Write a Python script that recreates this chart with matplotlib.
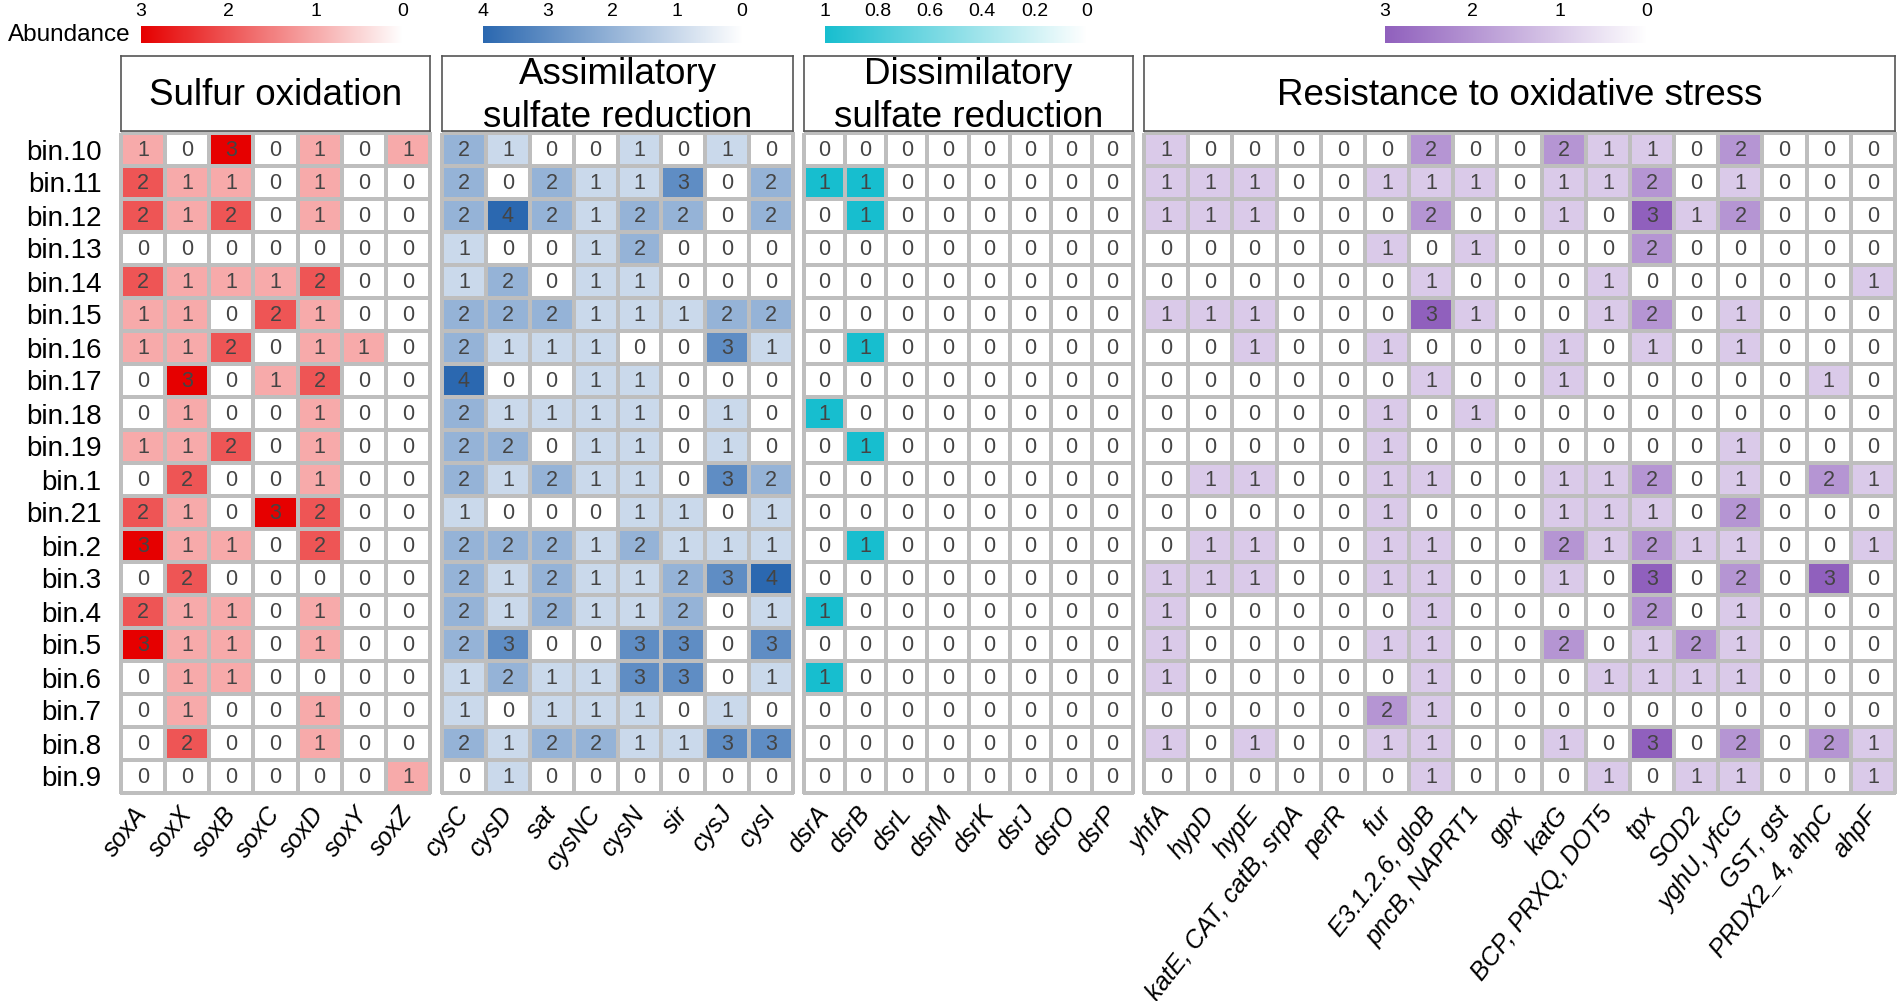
import numpy as np
import matplotlib
matplotlib.use("Agg")
from matplotlib import pyplot as plt
from matplotlib.colors import LinearSegmentedColormap

plt.rcParams['font.family'] = ['Liberation Sans', 'DejaVu Sans']

# row labels (top to bottom)
bins = ['bin.10', 'bin.11', 'bin.12', 'bin.13', 'bin.14', 'bin.15', 'bin.16',
        'bin.17', 'bin.18', 'bin.19', 'bin.1', 'bin.21', 'bin.2', 'bin.3',
        'bin.4', 'bin.5', 'bin.6', 'bin.7', 'bin.8', 'bin.9']

# Sulfur oxidation
sox_genes = ['soxA', 'soxX', 'soxB', 'soxC', 'soxD', 'soxY', 'soxZ']
sox_vals = [
    [1, 0, 3, 0, 1, 0, 1],
    [2, 1, 1, 0, 1, 0, 0],
    [2, 1, 2, 0, 1, 0, 0],
    [0, 0, 0, 0, 0, 0, 0],
    [2, 1, 1, 1, 2, 0, 0],
    [1, 1, 0, 2, 1, 0, 0],
    [1, 1, 2, 0, 1, 1, 0],
    [0, 3, 0, 1, 2, 0, 0],
    [0, 1, 0, 0, 1, 0, 0],
    [1, 1, 2, 0, 1, 0, 0],
    [0, 2, 0, 0, 1, 0, 0],
    [2, 1, 0, 3, 2, 0, 0],
    [3, 1, 1, 0, 2, 0, 0],
    [0, 2, 0, 0, 0, 0, 0],
    [2, 1, 1, 0, 1, 0, 0],
    [3, 1, 1, 0, 1, 0, 0],
    [0, 1, 1, 0, 0, 0, 0],
    [0, 1, 0, 0, 1, 0, 0],
    [0, 2, 0, 0, 1, 0, 0],
    [0, 0, 0, 0, 0, 0, 1],
]

# Assimilatory sulfate reduction
cys_genes = ['cysC', 'cysD', 'sat', 'cysNC', 'cysN', 'sir', 'cysJ', 'cysI']
cys_vals = [
    [2, 1, 0, 0, 1, 0, 1, 0],
    [2, 0, 2, 1, 1, 3, 0, 2],
    [2, 4, 2, 1, 2, 2, 0, 2],
    [1, 0, 0, 1, 2, 0, 0, 0],
    [1, 2, 0, 1, 1, 0, 0, 0],
    [2, 2, 2, 1, 1, 1, 2, 2],
    [2, 1, 1, 1, 0, 0, 3, 1],
    [4, 0, 0, 1, 1, 0, 0, 0],
    [2, 1, 1, 1, 1, 0, 1, 0],
    [2, 2, 0, 1, 1, 0, 1, 0],
    [2, 1, 2, 1, 1, 0, 3, 2],
    [1, 0, 0, 0, 1, 1, 0, 1],
    [2, 2, 2, 1, 2, 1, 1, 1],
    [2, 1, 2, 1, 1, 2, 3, 4],
    [2, 1, 2, 1, 1, 2, 0, 1],
    [2, 3, 0, 0, 3, 3, 0, 3],
    [1, 2, 1, 1, 3, 3, 0, 1],
    [1, 0, 1, 1, 1, 0, 1, 0],
    [2, 1, 2, 2, 1, 1, 3, 3],
    [0, 1, 0, 0, 0, 0, 0, 0],
]

# Dissimilatory sulfate reduction
dsr_genes = ['dsrA', 'dsrB', 'dsrL', 'dsrM', 'dsrK', 'dsrJ', 'dsrO', 'dsrP']
dsr_vals = [
    [0, 0, 0, 0, 0, 0, 0, 0],
    [1, 1, 0, 0, 0, 0, 0, 0],
    [0, 1, 0, 0, 0, 0, 0, 0],
    [0, 0, 0, 0, 0, 0, 0, 0],
    [0, 0, 0, 0, 0, 0, 0, 0],
    [0, 0, 0, 0, 0, 0, 0, 0],
    [0, 1, 0, 0, 0, 0, 0, 0],
    [0, 0, 0, 0, 0, 0, 0, 0],
    [1, 0, 0, 0, 0, 0, 0, 0],
    [0, 1, 0, 0, 0, 0, 0, 0],
    [0, 0, 0, 0, 0, 0, 0, 0],
    [0, 0, 0, 0, 0, 0, 0, 0],
    [0, 1, 0, 0, 0, 0, 0, 0],
    [0, 0, 0, 0, 0, 0, 0, 0],
    [1, 0, 0, 0, 0, 0, 0, 0],
    [0, 0, 0, 0, 0, 0, 0, 0],
    [1, 0, 0, 0, 0, 0, 0, 0],
    [0, 0, 0, 0, 0, 0, 0, 0],
    [0, 0, 0, 0, 0, 0, 0, 0],
    [0, 0, 0, 0, 0, 0, 0, 0],
]

# Resistance to oxidative stress
ros_genes = ['yhfA', 'hypD', 'hypE', 'katE, CAT, catB, srpA', 'perR', 'fur',
             'E3.1.2.6, gloB', 'pncB, NAPRT1', 'gpx', 'katG', 'BCP, PRXQ, DOT5',
             'tpx', 'SOD2', 'yghU, yfcG', 'GST, gst', 'PRDX2_4, ahpC', 'ahpF']
ros_vals = [
    [1, 0, 0, 0, 0, 0, 2, 0, 0, 2, 1, 1, 0, 2, 0, 0, 0],
    [1, 1, 1, 0, 0, 1, 1, 1, 0, 1, 1, 2, 0, 1, 0, 0, 0],
    [1, 1, 1, 0, 0, 0, 2, 0, 0, 1, 0, 3, 1, 2, 0, 0, 0],
    [0, 0, 0, 0, 0, 1, 0, 1, 0, 0, 0, 2, 0, 0, 0, 0, 0],
    [0, 0, 0, 0, 0, 0, 1, 0, 0, 0, 1, 0, 0, 0, 0, 0, 1],
    [1, 1, 1, 0, 0, 0, 3, 1, 0, 0, 1, 2, 0, 1, 0, 0, 0],
    [0, 0, 1, 0, 0, 1, 0, 0, 0, 1, 0, 1, 0, 1, 0, 0, 0],
    [0, 0, 0, 0, 0, 0, 1, 0, 0, 1, 0, 0, 0, 0, 0, 1, 0],
    [0, 0, 0, 0, 0, 1, 0, 1, 0, 0, 0, 0, 0, 0, 0, 0, 0],
    [0, 0, 0, 0, 0, 1, 0, 0, 0, 0, 0, 0, 0, 1, 0, 0, 0],
    [0, 1, 1, 0, 0, 1, 1, 0, 0, 1, 1, 2, 0, 1, 0, 2, 1],
    [0, 0, 0, 0, 0, 1, 0, 0, 0, 1, 1, 1, 0, 2, 0, 0, 0],
    [0, 1, 1, 0, 0, 1, 1, 0, 0, 2, 1, 2, 1, 1, 0, 0, 1],
    [1, 1, 1, 0, 0, 1, 1, 0, 0, 1, 0, 3, 0, 2, 0, 3, 0],
    [1, 0, 0, 0, 0, 0, 1, 0, 0, 0, 0, 2, 0, 1, 0, 0, 0],
    [1, 0, 0, 0, 0, 1, 1, 0, 0, 2, 0, 1, 2, 1, 0, 0, 0],
    [1, 0, 0, 0, 0, 0, 1, 0, 0, 0, 1, 1, 1, 1, 0, 0, 0],
    [0, 0, 0, 0, 0, 2, 1, 0, 0, 0, 0, 0, 0, 0, 0, 0, 0],
    [1, 0, 1, 0, 0, 1, 1, 0, 0, 1, 0, 3, 0, 2, 0, 2, 1],
    [0, 0, 0, 0, 0, 0, 1, 0, 0, 0, 1, 0, 1, 1, 0, 0, 1],
]

titles = ['Sulfur oxidation', 'Assimilatory\nsulfate reduction',
          'Dissimilatory\nsulfate reduction', 'Resistance to oxidative stress']
cbar_ticks = [['3', '2', '1', '0'], ['4', '3', '2', '1', '0'],
              ['1', '0.8', '0.6', '0.4', '0.2', '0'], ['3', '2', '1', '0']]

W, H = 1902, 1001


def px(x0, y0, x1, y1):
    # pixel box -> figure fraction [left, bottom, width, height]
    return [x0 / W, 1 - y1 / H, (x1 - x0) / W, (y1 - y0) / H]


groups = [
    # genes, values, colour, vmax, grid x range, colorbar x range
    (sox_genes, sox_vals, '#E60000', 3, (121, 430), (141, 403)),
    (cys_genes, cys_vals, '#2B68B0', 4, (442, 793), (483, 742)),
    (dsr_genes, dsr_vals, '#17BECF', 1, (804, 1133), (825, 1087)),
    (ros_genes, ros_vals, '#9060BD', 3, (1144, 1895), (1385, 1647)),
]

grid_top, grid_bot = 133, 793
head_top, head_bot = 56, 131
bar_top, bar_bot = 26, 43

fig = plt.figure(figsize=(W / 100, H / 100), dpi=100)

for k, (genes, vals, col, vmax, (gx0, gx1), (bx0, bx1)) in enumerate(groups):
    cmap = LinearSegmentedColormap.from_list('c%d' % k, ['white', col])
    data = np.array(vals)

    # heatmap
    ax = fig.add_axes(px(gx0, grid_top, gx1, grid_bot))
    mesh = ax.pcolormesh(data, cmap=cmap, vmin=0, vmax=vmax,
                         edgecolors='#BEBEBE', linewidth=1.5)
    mesh.set_clip_on(False)
    ax.set_xlim(0, data.shape[1])
    ax.set_ylim(data.shape[0], 0)
    for i in range(data.shape[0]):
        for j in range(data.shape[1]):
            ax.text(j + 0.5, i + 0.53, str(data[i, j]), ha='center', va='center',
                    fontsize=15.5, color='#444444')
    for s in ax.spines.values():
        s.set_visible(False)
    ax.set_xticks(np.arange(len(genes)) + 0.5)
    ax.set_xticklabels(genes, fontsize=18, style='italic')
    plt.setp(ax.get_xticklabels(), rotation=52, ha='right', va='center',
             rotation_mode='anchor')
    ax.tick_params(axis='x', length=0, pad=12)
    if k == 0:
        ax.set_yticks(np.arange(len(bins)) + 0.5)
        ax.set_yticklabels(bins, fontsize=20)
        ax.tick_params(axis='y', length=0, pad=14)
    else:
        ax.set_yticks([])

    # header box
    hx = fig.add_axes(px(gx0, head_top, gx1, head_bot))
    hx.set_xticks([])
    hx.set_yticks([])
    for s in hx.spines.values():
        s.set_color('#555555')
        s.set_linewidth(1.2)
    hx.text(0.5, 0.47, titles[k], ha='center', va='center', fontsize=26.5,
            linespacing=1.3, transform=hx.transAxes)

    # colour bar
    cx = fig.add_axes(px(bx0, bar_top, bx1, bar_bot))
    grad = np.linspace(vmax, 0, 256)[None, :]
    cx.imshow(grad, cmap=cmap, vmin=0, vmax=vmax, aspect='auto',
              extent=(vmax, 0, 0, 1))
    cx.set_xlim(vmax, 0)
    tick_vals = [float(t) for t in cbar_ticks[k]]
    cx.set_xticks(tick_vals)
    cx.set_xticklabels(cbar_ticks[k], fontsize=14)
    cx.xaxis.tick_top()
    cx.tick_params(axis='x', length=0, pad=4)
    cx.set_yticks([])
    for s in cx.spines.values():
        s.set_visible(False)

fig.text(131 / W, 1 - 35 / H, 'Abundance', ha='right', va='center', fontsize=17.5)

plt.savefig('out.png', dpi=100)
